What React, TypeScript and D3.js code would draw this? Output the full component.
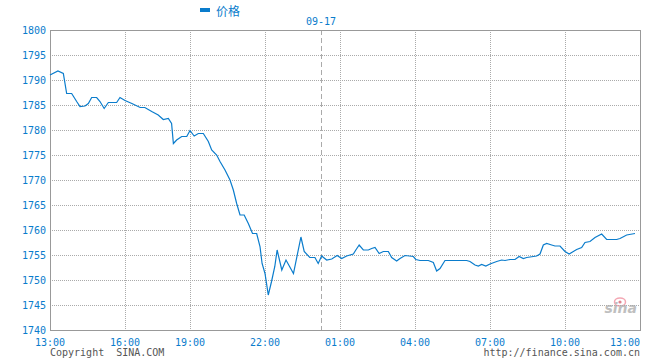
import React, { useEffect, useRef } from "react";
import * as d3 from "d3";

// price series (time of day, value)
const times = [
  "13:00", "13:19", "13:32", "13:40", "13:52", "14:04", "14:12", "14:24", "14:32", "14:40",
  "14:52", "15:00", "15:10", "15:20", "15:40", "15:48", "16:00", "16:19", "16:42", "16:55",
  "17:14", "17:32", "17:46", "18:00", "18:09", "18:14", "18:23", "18:37", "18:51", "19:00",
  "19:10", "19:20", "19:32", "19:44", "19:52", "20:04", "20:12", "20:24", "20:36", "20:44",
  "20:52", "21:00", "21:10", "21:20", "21:30", "21:40", "21:48", "21:53", "22:00", "22:07",
  "22:14", "22:21", "22:26", "22:36", "22:45", "23:01", "23:17", "23:24", "23:36", "23:47",
  "23:54", "00:02", "00:18", "00:34", "00:51", "01:04", "01:16", "01:32", "01:38", "01:46",
  "01:56", "02:08", "02:16", "02:24", "02:34", "02:44", "02:56", "03:04", "03:16", "03:24",
  "03:36", "03:56", "04:02", "04:12", "04:32", "04:44", "04:52", "05:00", "05:12", "06:04",
  "06:12", "06:24", "06:32", "06:40", "06:50", "07:00", "07:16", "07:28", "07:36", "07:48",
  "08:00", "08:10", "08:20", "08:28", "08:52", "09:00", "09:08", "09:16", "09:28", "09:36",
  "09:48", "10:00", "10:10", "10:20", "10:28", "10:40", "10:48", "11:00", "11:12", "11:28",
  "11:40", "12:04", "12:12", "12:28", "12:48"
];
const prices = [
  1791.0, 1791.8, 1791.3, 1787.3, 1787.3, 1785.7, 1784.7, 1784.8, 1785.3, 1786.5,
  1786.5, 1785.7, 1784.3, 1785.5, 1785.5, 1786.5, 1785.9, 1785.3, 1784.5, 1784.5,
  1783.7, 1783.0, 1782.1, 1782.3, 1781.3, 1777.3, 1778.0, 1778.7, 1778.7, 1779.9,
  1778.8, 1779.3, 1779.3, 1777.7, 1776.0, 1775.0, 1773.7, 1772.0, 1770.0, 1768.0,
  1765.3, 1763.0, 1763.0, 1761.3, 1759.3, 1759.3, 1756.7, 1753.3, 1751.3, 1747.0,
  1749.7, 1752.7, 1756.0, 1752.0, 1754.0, 1751.3, 1758.6, 1755.7, 1754.5, 1754.5,
  1753.3, 1754.8, 1754.0, 1754.2, 1754.9, 1754.3, 1754.8, 1755.2, 1756.0, 1757.0,
  1756.0, 1756.0, 1756.3, 1756.5, 1755.3, 1755.7, 1755.7, 1754.5, 1753.8, 1754.3,
  1754.9, 1754.7, 1754.1, 1753.9, 1753.9, 1753.5, 1751.8, 1752.3, 1753.9, 1753.9,
  1753.7, 1753.0, 1752.8, 1753.1, 1752.8, 1753.2, 1753.7, 1754.0, 1753.9, 1754.1,
  1754.1, 1754.7, 1754.3, 1754.5, 1754.8, 1755.2, 1757.0, 1757.3, 1757.0, 1756.8,
  1756.8, 1755.7, 1755.2, 1755.7, 1756.1, 1756.5, 1757.5, 1757.7, 1758.5, 1759.2,
  1758.1, 1758.1, 1758.3, 1759.0, 1759.3
];

const xTickLabels = ["13:00", "16:00", "19:00", "22:00", "01:00", "04:00", "07:00", "10:00", "13:00"];
const yTicks = [1740, 1745, 1750, 1755, 1760, 1765, 1770, 1775, 1780, 1785, 1790, 1795, 1800];
const dateLabel = "09-17";
const seriesName = "价格";

const blue = "#0a7ccc";
const mono = "'DejaVu Sans Mono', monospace";

// minutes since 13:00
const toMin = (t: string) => {
  const [h, m] = t.split(":").map(Number);
  return (h * 60 + m - 780 + 1440) % 1440;
};

export default function App() {
  const ref = useRef<SVGSVGElement>(null);

  useEffect(() => {
    document.body.style.margin = "0";
    const svg = d3.select(ref.current);
    svg.selectAll("*").remove();

    const left = 50, right = 640, top = 30, bottom = 330;

    // the time axis of this chart is not even, so it's piecewise
    const x = d3
      .scaleLinear()
      .domain([0, 180, 360, 540, 660, 720, 1440])
      .range([left, 125, 190, 265, 321, 340, right]);
    const y = d3.scaleLinear().domain([1740, 1800]).range([bottom, top]);

    // grid
    const g = svg.append("g");
    g.selectAll(".hg")
      .data(yTicks.slice(1, -1))
      .enter()
      .append("line")
      .attr("x1", left)
      .attr("x2", right)
      .attr("y1", (d) => y(d) + 0.5)
      .attr("y2", (d) => y(d) + 0.5)
      .attr("stroke", "#aaa")
      .attr("stroke-dasharray", "1,1");

    g.selectAll(".vg")
      .data(xTickLabels.slice(1, -1).map((d, i) => (i + 1) * 180))
      .enter()
      .append("line")
      .attr("x1", (d) => x(d) + 0.5)
      .attr("x2", (d) => x(d) + 0.5)
      .attr("y1", top)
      .attr("y2", bottom)
      .attr("stroke", "#aaa")
      .attr("stroke-dasharray", "1,1");

    // day change
    g.append("line")
      .attr("x1", x(660) + 0.5)
      .attr("x2", x(660) + 0.5)
      .attr("y1", top)
      .attr("y2", bottom)
      .attr("stroke", "#aaa")
      .attr("stroke-dasharray", "5,3");

    g.append("text")
      .attr("x", x(660))
      .attr("y", 25)
      .attr("text-anchor", "middle")
      .style("font", "10px " + mono)
      .attr("fill", blue)
      .text(dateLabel);

    // border
    svg.append("rect")
      .attr("x", left + 0.5)
      .attr("y", top + 0.5)
      .attr("width", right - left)
      .attr("height", bottom - top)
      .attr("fill", "none")
      .attr("stroke", "#999");

    // y labels
    svg.selectAll(".yl")
      .data(yTicks)
      .enter()
      .append("text")
      .attr("x", 46)
      .attr("y", (d) => y(d) + 4)
      .attr("text-anchor", "end")
      .style("font", "10px " + mono)
      .attr("fill", blue)
      .text((d) => d);

    // x labels
    svg.selectAll(".xl")
      .data(xTickLabels)
      .enter()
      .append("text")
      .attr("x", (d, i) => (i === xTickLabels.length - 1 ? right : x(i * 180)))
      .attr("y", 346)
      .attr("text-anchor", (d, i) => (i === xTickLabels.length - 1 ? "end" : "middle"))
      .style("font", "10px " + mono)
      .attr("fill", blue)
      .text((d) => d);

    // sina mark
    const logo = svg.append("g").attr("opacity", 0.75);
    logo.append("ellipse").attr("cx", 620).attr("cy", 302).attr("rx", 5.5).attr("ry", 4)
      .attr("fill", "none").attr("stroke", "#f08a9a").attr("stroke-width", 1.5);
    logo.append("circle").attr("cx", 620).attr("cy", 302).attr("r", 1.6).attr("fill", "#d85a6a");
    logo.append("text")
      .attr("x", 637)
      .attr("y", 313)
      .attr("text-anchor", "end")
      .style("font", "italic bold 14px 'DejaVu Sans', sans-serif")
      .attr("fill", "#aaa")
      .text("sina");

    // price line
    const line = d3
      .line<number>()
      .x((d, i) => x(toMin(times[i])))
      .y((d) => y(d));

    svg.append("path")
      .datum(prices)
      .attr("d", line)
      .attr("fill", "none")
      .attr("stroke", blue)
      .attr("stroke-width", 1.2);

    // legend
    svg.append("rect")
      .attr("x", 200)
      .attr("y", 8)
      .attr("width", 10)
      .attr("height", 4)
      .attr("fill", blue);
    svg.append("text")
      .attr("x", 216)
      .attr("y", 16)
      .style("font", "12px 'Noto Sans CJK SC', sans-serif")
      .attr("fill", blue)
      .text(seriesName);

    // footer
    svg.append("text")
      .attr("x", left)
      .attr("y", 356)
      .style("font", "10px " + mono)
      .attr("fill", "#555")
      .attr("xml:space", "preserve")
      .text("Copyright  SINA.COM");
    svg.append("text")
      .attr("x", right)
      .attr("y", 356)
      .attr("text-anchor", "end")
      .style("font", "10px " + mono)
      .attr("fill", "#555")
      .text("http://finance.sina.com.cn");
  }, []);

  return (
    <svg
      ref={ref}
      width={660}
      height={360}
      style={{ display: "block", background: "#fff" }}
    />
  );
}
